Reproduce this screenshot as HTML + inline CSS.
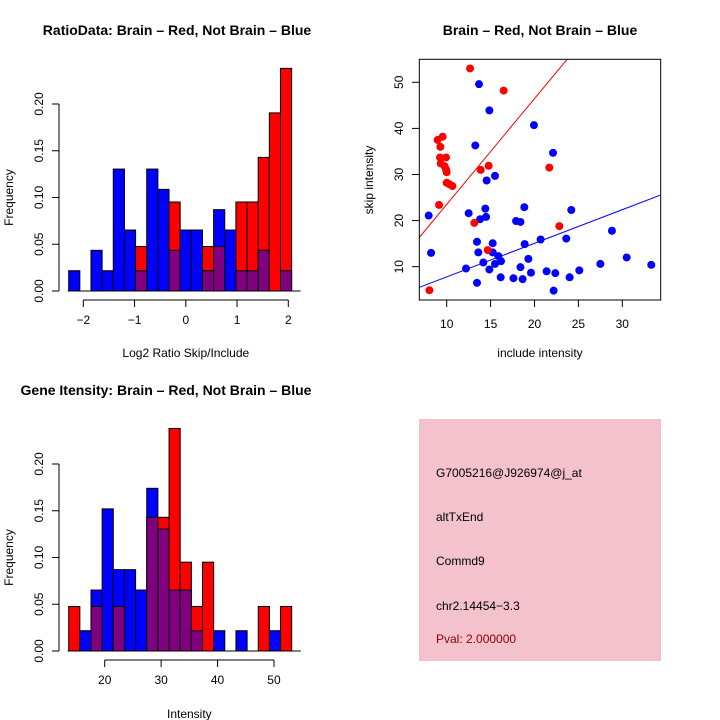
<!DOCTYPE html>
<html><head><meta charset="utf-8"><style>
body{margin:0;background:#fff}
svg{display:block;font-family:"Liberation Sans",sans-serif}
</style></head><body>
<svg id="s" width="720" height="720" viewBox="0 0 720 720"></svg>
<script>
// Ratio histogram data
const ratioStart=-2.285, ratioWidth=0.2175;
const ratioBlue=[0.0217,0,0.0435,0.0217,0.1304,0.0652,0.0217,0.1304,0.1087,0.0435,0.0652,0.0652,0.0217,0.087,0.0652,0.0217,0.0217,0.0435,0,0.0217];
const ratioRed=[0,0,0,0,0,0,0.0476,0,0,0.0952,0,0,0.0476,0.0476,0,0.0952,0.0952,0.1429,0.1905,0.2381];
const ratioXTicks=[-2,-1,0,1,2];
const freqTicks=[0,0.05,0.10,0.15,0.20];
const freqTickLabels=["0.00","0.05","0.10","0.15","0.20"];
// Intensity histogram data
const intStart=13.62, intWidth=1.976;
const intBlue=[0,0.0217,0.0652,0.152,0.087,0.087,0.0652,0.174,0.1304,0.0652,0.0652,0.0217,0,0.0217,0,0.0217,0,0,0.0217,0];
const intRed=[0.0476,0,0.0476,0,0.0476,0,0,0.143,0.143,0.238,0.095,0.0476,0.095,0,0,0,0,0.0476,0,0.0476];
const intXTicks=[20,30,40,50];
// Scatter data
const redX=[12.66,16.49,9.54,8.97,9.28,9.24,9.92,9.32,9.77,9.92,10.0,10.0,10.3,10.65,9.13,14.78,13.87,21.69,13.15,22.83,14.67,8.03];
const redY=[53.0,48.2,38.2,37.5,36.0,33.7,33.7,32.4,31.8,31.1,30.5,28.2,27.9,27.5,23.4,31.9,31.0,31.5,19.5,18.8,13.6,4.9];
const blueX=[13.68,14.86,19.94,13.26,22.11,15.5,14.55,24.19,18.84,14.4,14.48,13.8,12.5,7.95,17.9,18.4,28.82,20.7,23.62,13.45,15.24,18.88,8.22,13.6,15.24,15.88,16.19,19.3,30.5,14.17,15.5,12.2,18.4,14.86,19.6,21.38,22.37,25.1,27.5,33.3,16.15,17.6,18.65,24.0,13.45,22.18];
const blueY=[49.6,43.9,40.7,36.3,34.7,29.7,28.7,22.3,22.9,22.6,20.8,20.3,21.6,21.1,19.9,19.7,17.8,15.9,16.1,15.4,15.1,14.9,13.0,13.1,13.1,12.3,11.2,11.7,12.0,10.9,10.6,9.6,9.9,9.4,8.7,9.0,8.6,9.2,10.6,10.4,7.7,7.5,7.3,7.7,6.5,4.8];
const redLine=[0.56,2.295], blueLine=[0.5,0.729];
const scXTicks=[10,15,20,25,30], scYTicks=[10,20,30,40,50];

const NS="http://www.w3.org/2000/svg", S=document.getElementById('s');
function mk(tag,at,parent,txt){const e=document.createElementNS(NS,tag);for(const k in at)e.setAttribute(k,at[k]);if(txt!==undefined)e.textContent=txt;(parent||S).appendChild(e);return e;}
function grp(name){const g=mk('g',{},S);return g;}

function hist(name,start,w,blue,red,xpx,y0,xticks,xAxisY,xlabel,xlabelY,title,titleX,titleY){
  const g=grp(name);
  const fy=v=>y0-v*935;
  for(let i=0;i<blue.length;i++){
    const a=start+i*w,b=a+w,x1=xpx(a),x2=xpx(b),bv=blue[i],rv=red[i];
    const mn=Math.min(bv,rv),mx=Math.max(bv,rv);
    if(mx>0){const r=mk('rect',{x:x1,y:fy(mx),width:x2-x1,height:fy(0)-fy(mx),fill:bv>=rv?'#0000ff':'#ff0000',stroke:'#000','stroke-width':1},g);
      }
    if(mn>0){const r=mk('rect',{x:x1,y:fy(mn),width:x2-x1,height:fy(0)-fy(mn),fill:'#800080',stroke:'#000','stroke-width':1},g);
      }
  }
  mk('line',{x1:xpx(start)-1,x2:xpx(start+w*blue.length)+9,y1:y0,y2:y0,stroke:'#000'},g);
  // y axis
  mk('line',{x1:59,x2:59,y1:fy(0),y2:fy(0.2),stroke:'#000'},g);
  freqTicks.forEach((t,i)=>{const y=fy(t);mk('line',{x1:52,x2:59,y1:y,y2:y,stroke:'#000'},g);
    mk('text',{x:0,y:0,transform:`translate(43,${y}) rotate(-90)`,'text-anchor':'middle','font-size':12},g,freqTickLabels[i]);});
  mk('text',{transform:`translate(13,${fy(0.1)}) rotate(-90)`,'text-anchor':'middle','font-size':12},g,'Frequency');
  // x axis
  mk('line',{x1:xpx(xticks[0]),x2:xpx(xticks[xticks.length-1]),y1:xAxisY,y2:xAxisY,stroke:'#000'},g);
  xticks.forEach(t=>{const x=xpx(t);mk('line',{x1:x,x2:x,y1:xAxisY,y2:xAxisY+7,stroke:'#000'},g);
    mk('text',{x:x,y:xAxisY+24,'text-anchor':'middle','font-size':12},g,String(t).replace('-','\u2212'));});
  mk('text',{x:(xpx(xticks[0])+xpx(xticks[xticks.length-1]))/2,y:xlabelY,'text-anchor':'middle','font-size':12},g,xlabel);
  mk('text',{x:titleX,y:titleY,'text-anchor':'middle','font-size':14,'font-weight':'bold'},g,title);
}
hist('ratio-histogram',ratioStart,ratioWidth,ratioBlue,ratioRed,v=>83.3+(v+2)*51.25,291,ratioXTicks,300,'Log2 Ratio Skip/Include',357,'RatioData: Brain \u2013 Red, Not Brain \u2013 Blue',177,35);
hist('intensity-histogram',intStart,intWidth,intBlue,intRed,v=>104.7+(v-20)*5.643,651,intXTicks,660,'Intensity',718,'Gene Itensity: Brain \u2013 Red, Not Brain \u2013 Blue',166,395);

// scatter
(function(){
  const g=grp('scatter-plot');
  const sx=v=>446.7+(v-10)*8.78, sy=v=>266.7-(v-10)*4.61;
  mk('text',{x:540,y:35,'text-anchor':'middle','font-size':14,'font-weight':'bold'},g,'Brain \u2013 Red, Not Brain \u2013 Blue');
  const cp=mk('clipPath',{id:'cp'},g);mk('rect',{x:419.3,y:59.3,width:241.4,height:240.7},cp);
  const lines=mk('g',{'clip-path':'url(#cp)'},g);
  [[redLine,'#ff0000','red-fit-line'],[blueLine,'#0000ff','blue-fit-line']].forEach(([L,c,n])=>{
    const l=mk('line',{x1:sx(6),y1:sy(L[0]+L[1]*6),x2:sx(36),y2:sy(L[0]+L[1]*36),stroke:c,'stroke-width':1},lines);
    });
  blueX.forEach((x,i)=>{const c=mk('circle',{cx:sx(x),cy:sy(blueY[i]),r:4,fill:'#0000ff'},g);
    });
  redX.forEach((x,i)=>{const c=mk('circle',{cx:sx(x),cy:sy(redY[i]),r:4,fill:'#ff0000'},g);
    });
  mk('rect',{x:419.3,y:59.3,width:241.4,height:240.7,fill:'none',stroke:'#000'},g);
  scXTicks.forEach(t=>{const x=sx(t);mk('line',{x1:x,x2:x,y1:300,y2:307,stroke:'#000'},g);
    mk('text',{x:x,y:328,'text-anchor':'middle','font-size':12},g,String(t));});
  scYTicks.forEach(t=>{const y=sy(t);mk('line',{x1:412,x2:419.3,y1:y,y2:y,stroke:'#000'},g);
    mk('text',{transform:`translate(403,${y}) rotate(-90)`,'text-anchor':'middle','font-size':12},g,String(t));});
  mk('text',{x:540,y:357,'text-anchor':'middle','font-size':12},g,'include intensity');
  mk('text',{transform:`translate(373,180) rotate(-90)`,'text-anchor':'middle','font-size':12},g,'skip intensity');
})();

// info panel
(function(){
  const g=grp('info-panel');
  mk('rect',{x:419,y:419,width:242,height:242,fill:'#f3c2cc'},g);
  const rows=[['G7005216@J926974@j_at',477,'#000','probe-id'],['altTxEnd',521,'#000','event-type'],['Commd9',565,'#000','gene-name'],['chr2.14454\u22123.3',610,'#000','location'],['Pval: 2.000000',643,'#8b0000','p-value']];
  rows.forEach(r=>{const t=mk('text',{x:436,y:r[1],'font-size':12,fill:r[2]},g,r[0]);
    });
})();
</script>
</body></html>
